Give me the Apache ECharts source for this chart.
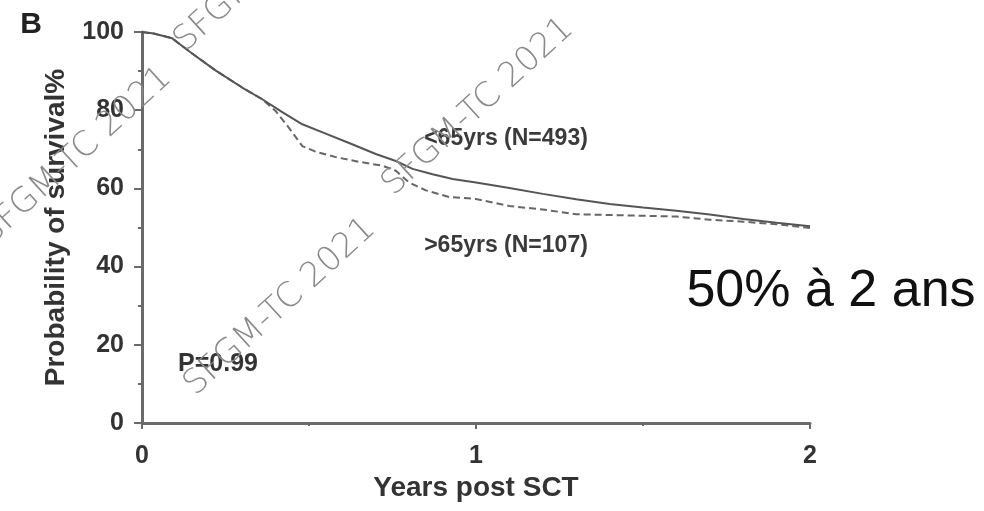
<!DOCTYPE html>
<html>
<head>
<meta charset="utf-8">
<script src="https://cdn.jsdelivr.net/npm/echarts@6/dist/echarts.min.js"></script>
<style>html,body{margin:0;padding:0;background:#fff}#c{width:984px;height:511px}</style>
</head>
<body>
<div id="c"></div>
<script>
// Data
const youngX = [0, 0.035, 0.09, 0.15, 0.22, 0.30, 0.36, 0.42, 0.48, 0.55, 0.62, 0.70, 0.76, 0.81, 0.87, 0.93, 1.0, 1.1, 1.2, 1.3, 1.4, 1.5, 1.6, 1.7, 1.8, 1.9, 2.0];
const youngY = [100, 99.6, 98.4, 94.5, 90.2, 85.8, 82.8, 79.5, 76.4, 74.0, 71.6, 68.8, 67.0, 65.0, 63.6, 62.4, 61.5, 60.1, 58.6, 57.2, 56.0, 55.1, 54.3, 53.3, 52.2, 51.2, 50.3];
const oldX = [0, 0.035, 0.09, 0.15, 0.22, 0.30, 0.36, 0.40, 0.44, 0.48, 0.52, 0.58, 0.65, 0.72, 0.76, 0.80, 0.85, 0.92, 1.0, 1.1, 1.2, 1.3, 1.4, 1.5, 1.6, 1.7, 1.8, 1.9, 2.0];
const oldY = [100, 99.6, 98.4, 94.5, 90.2, 85.8, 82.8, 79.8, 75.5, 70.8, 69.4, 68.0, 66.8, 65.8, 64.5, 61.5, 59.5, 57.8, 57.3, 55.5, 54.6, 53.4, 53.2, 53.0, 52.8, 52.0, 51.5, 50.8, 49.9];
const xTicks = [0, 1, 2];
const yTicks = [0, 20, 40, 60, 80, 100];
const seriesNames = ['<65yrs (N=493)', '>65yrs (N=107)'];
const pValueText = 'P=0.99';
const panelLetter = 'B';
const noteText = '50% à 2 ans';
const watermark = 'SFGM-TC 2021';

const zip = (xs, ys) => xs.map((x, i) => [x, ys[i]]);
const FONT = 'Liberation Sans, Arial, sans-serif';
const axisColor = '#6a6a6a';

const chart = echarts.init(document.getElementById('c'));

const wm = (x, y) => ({
  type: 'text', x: x, y: y, rotation: 0.74, z: 100,
  style: { text: watermark, font: '200 34px "DejaVu Sans", sans-serif', fill: '#8a8a8a', align: 'center', verticalAlign: 'middle' }
});

chart.setOption({
  animation: false,
  backgroundColor: '#ffffff',
  grid: { left: 142, right: 174, top: 32, bottom: 88, containLabel: false },
  xAxis: {
    type: 'value', min: xTicks[0], max: xTicks[xTicks.length - 1], interval: 1,
    name: 'Years post SCT', nameLocation: 'middle', nameGap: 51,
    nameTextStyle: { fontFamily: FONT, fontWeight: 'bold', fontSize: 28, color: '#333' },
    axisLine: { show: true, lineStyle: { color: axisColor, width: 3 } },
    axisTick: { show: true, length: 6, lineStyle: { color: axisColor, width: 2 } },
    minorTick: { show: true, splitNumber: 2, length: 3, lineStyle: { color: axisColor, width: 2 } },
    axisLabel: { fontFamily: FONT, fontWeight: 'bold', fontSize: 25, color: '#333', margin: 21 },
    splitLine: { show: false }
  },
  yAxis: {
    type: 'value', min: yTicks[0], max: yTicks[yTicks.length - 1], interval: 20,
    name: 'Probability of survival%', nameLocation: 'middle', nameGap: 72, nameRotate: 90,
    nameTextStyle: { fontFamily: FONT, fontWeight: 'bold', fontSize: 28, color: '#333' },
    axisLine: { show: true, lineStyle: { color: axisColor, width: 3 } },
    axisTick: { show: true, length: 8, lineStyle: { color: axisColor, width: 2 } },
    minorTick: { show: true, splitNumber: 2, length: 4, lineStyle: { color: axisColor, width: 2 } },
    axisLabel: { fontFamily: FONT, fontWeight: 'bold', fontSize: 25, color: '#333', margin: 18 },
    splitLine: { show: false }
  },
  series: [
    {
      name: seriesNames[0], type: 'line', data: zip(youngX, youngY), showSymbol: false,
      lineStyle: { color: '#555', width: 2 }, z: 3
    },
    {
      name: seriesNames[1], type: 'line', data: zip(oldX, oldY), showSymbol: false,
      lineStyle: { color: '#666', width: 2, type: [7, 4] }, z: 2
    }
  ],
  graphic: [
    { type: 'text', x: 31, y: 25, style: { text: panelLetter, font: 'bold 30px ' + FONT, fill: '#222', align: 'center', verticalAlign: 'middle' } },
    { type: 'text', x: 506, y: 139, style: { text: seriesNames[0], font: 'bold 23px ' + FONT, fill: '#3a3a3a', align: 'center', verticalAlign: 'middle' } },
    { type: 'text', x: 506, y: 246, style: { text: seriesNames[1], font: 'bold 23px ' + FONT, fill: '#3a3a3a', align: 'center', verticalAlign: 'middle' } },
    { type: 'text', x: 218, y: 364, style: { text: pValueText, font: 'bold 25px ' + FONT, fill: '#333', align: 'center', verticalAlign: 'middle' } },
    { type: 'text', x: 831, y: 292, style: { text: noteText, font: '52px ' + FONT, fill: '#111', align: 'center', verticalAlign: 'middle' } },
    wm(76, 156), wm(270, -37), wm(478, 107), wm(280, 307)
  ]
});
</script>
</body>
</html>
